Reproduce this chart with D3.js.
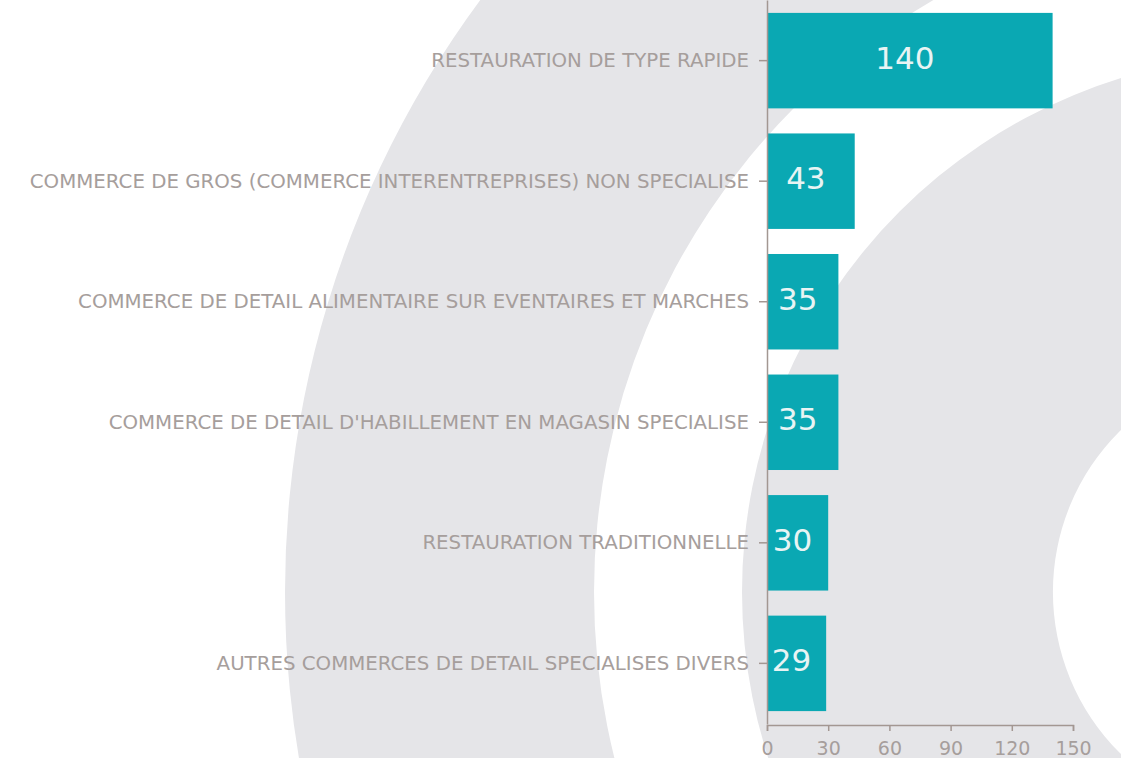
<!DOCTYPE html>
<html>
<head>
<meta charset="utf-8">
<script src="https://cdn.jsdelivr.net/npm/d3@7"></script>
<style>
  body { margin: 0; background: #fff; }
  .axis text { font-family: "DejaVu Sans", sans-serif; fill: #a69e9c; }
  .axis path, .axis line { stroke: #a39792; stroke-width: 1.5; }
</style>
</head>
<body>
<script>
var categories = [
  "RESTAURATION DE TYPE RAPIDE",
  "COMMERCE DE GROS (COMMERCE INTERENTREPRISES) NON SPECIALISE",
  "COMMERCE DE DETAIL ALIMENTAIRE SUR EVENTAIRES ET MARCHES",
  "COMMERCE DE DETAIL D'HABILLEMENT EN MAGASIN SPECIALISE",
  "RESTAURATION TRADITIONNELLE",
  "AUTRES COMMERCES DE DETAIL SPECIALISES DIVERS"
];
var counts = [140, 43, 35, 35, 30, 29];
var xTicks = [0, 30, 60, 90, 120, 150];

var width = 1121, height = 758;
var left = 767, plotH = 724;

var svg = d3.select('body')
  .append('svg')
  .attr('width', width)
  .attr('height', height);

// background rings (decoration)
var bg = svg.append("g").attr("transform", "translate(1280,592)");
var ring = d3.arc().startAngle(0).endAngle(2 * Math.PI);
bg.append("path")
  .attr("d", ring.innerRadius(686).outerRadius(995)())
  .attr("fill", "#e5e5e8");
bg.append("path")
  .attr("d", ring.innerRadius(227).outerRadius(538)())
  .attr("fill", "#e5e5e8");

var xScale = d3.scaleLinear().domain([0, 150]).range([0, 306]);
var yScale = d3.scaleBand()
  .domain(categories)
  .range([0, plotH])
  .paddingInner(0.208)
  .paddingOuter(0.107);

var g = svg.append("g")
  .attr("transform", "translate(" + left + ",0)");

//add bars
g.selectAll(".bar")
  .data(counts)
  .enter().append("rect")
  .attr("class", "bar")
  .attr("x", 0)
  .attr("y", function (d, i) { return yScale(categories[i]); })
  .attr("width", function (d) { return xScale(d); })
  .attr("height", yScale.bandwidth())
  .attr("fill", "#0aa8b3");

//value labels
g.selectAll(".val")
  .data(counts)
  .enter().append("text")
  .attr("class", "val")
  .attr("x", function (d) { return xScale(d) / 2 - 5; })
  .attr("y", function (d, i) { return yScale(categories[i]) + yScale.bandwidth() / 2; })
  .attr("dy", "0.26em")
  .attr("text-anchor", "middle")
  .style("font-family", "DejaVu Sans, sans-serif")
  .style("font-size", "31px")
  .style("fill", "#e8f4f4")
  .text(function (d) { return d; });

//add y axis
g.append("g")
  .attr("class", "axis")
  .call(d3.axisLeft(yScale).tickSize(8).tickSizeOuter(0).tickPadding(10))
  .selectAll("text")
  .style("font-size", "19.8px");

//add x axis
g.append("g")
  .attr("class", "axis")
  .attr("transform", "translate(0," + (plotH + 1) + ")")
  .call(d3.axisBottom(xScale).tickValues(xTicks).tickSize(6).tickSizeOuter(6).tickPadding(11))
  .selectAll("text")
  .style("font-size", "19px");
</script>
</body>
</html>
